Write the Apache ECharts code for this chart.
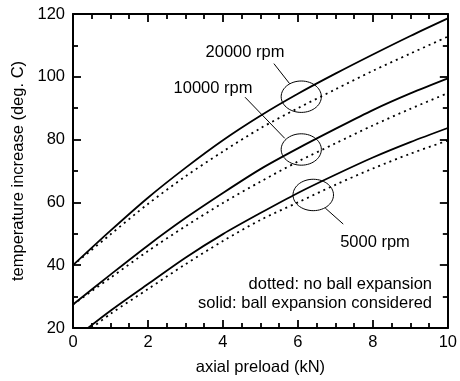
<!DOCTYPE html>
<html>
<head>
<meta charset="utf-8">
<script src="https://cdn.jsdelivr.net/npm/echarts@6/dist/echarts.min.js"></script>
<style>
  html, body { margin: 0; padding: 0; background: #fff; }
  #chart { width: 460px; height: 381px; }
</style>
</head>
<body>
<div id="chart"></div>
<script>
// axial preload (kN)
const loadX = [0, 1, 2, 3, 4, 5, 6, 7, 8, 9, 10];
const solid20000 = [40, 51, 61.5, 71, 79.8, 87.6, 94.6, 101, 107.1, 113, 118.6];
const dotted20000 = [40, 49.8, 59.5, 68.3, 76.2, 83.6, 90, 96, 101.9, 107.4, 112.8];
const solid10000 = [27.5, 37, 46.3, 55, 63, 70.6, 77.2, 83.4, 89.4, 94.7, 99.5];
const dotted10000 = [27.5, 36, 44.5, 52.4, 59.8, 66.6, 73, 78.8, 84.5, 89.8, 94.8];
// 5000 rpm curves start where they leave the bottom of the axis
const solid5000X = [0.4, 1, 2, 3, 4, 5, 6, 7, 8, 9, 10];
const solid5000 = [20, 25.5, 34, 42.4, 49.9, 56.6, 63, 68.8, 74.3, 79.2, 83.7];
const dotted5000X = [0.5, 1, 2, 3, 4, 5, 6, 7, 8, 9, 10];
const dotted5000 = [20, 24.5, 32.4, 40.3, 47.7, 54.4, 60, 65.6, 70.8, 75.5, 79.7];

// annotations in data units: ellipse [cx, cy, rx, ry], leader [x1, y1, x2, y2]
const ellipses = [[6.09, 93.66, 0.536, 5.0], [6.09, 76.85, 0.536, 5.0], [6.41, 62.37, 0.54, 5.0]];
const leaders = [[5.36, 104.2, 5.78, 97.8], [4.59, 93.5, 5.65, 80.4], [6.73, 58.2, 7.21, 53.1]];

const FONT = "'Liberation Sans', Arial, sans-serif";
const FS = 16.5;

function zip(xs, ys) {
  return xs.map((x, i) => [x, ys[i]]);
}

const chart = echarts.init(document.getElementById("chart"));

const axisCommon = {
  axisLine: { show: true, onZero: false, lineStyle: { color: "#000", width: 2 } },
  axisTick: { show: true, inside: true, length: 8, lineStyle: { color: "#000", width: 1.8 } },
  splitLine: { show: false },
};
const minor = (n) => ({ show: true, splitNumber: n, length: 5, lineStyle: { color: "#000", width: 1.8 } });

function solidLine(data) {
  return {
    type: "line", data: data, smooth: 0.3, symbol: "none",
    lineStyle: { color: "#000", width: 1.8, type: "solid" },
  };
}
function dottedLine(data) {
  return {
    type: "line", data: data, smooth: 0.3, symbol: "none",
    lineStyle: { color: "#000", width: 1.8, type: [2, 4] },
  };
}

const option = {
  animation: false,
  backgroundColor: "#fff",
  grid: { left: 73, right: 10, top: 14, bottom: 50 },
  xAxis: [
    Object.assign({}, axisCommon, {
      type: "value", min: 0, max: 10, interval: 2, position: "bottom",
      minorTick: minor(4),
      axisLabel: { color: "#000", fontSize: FS, fontFamily: FONT, margin: 6 },
      name: "axial preload (kN)", nameLocation: "middle", nameGap: 31,
      nameTextStyle: { color: "#000", fontSize: FS, fontFamily: FONT },
    }),
    Object.assign({}, axisCommon, {
      type: "value", min: 0, max: 10, interval: 2, position: "top",
      minorTick: minor(4),
      axisLabel: { show: false },
    }),
  ],
  yAxis: [
    Object.assign({}, axisCommon, {
      type: "value", min: 20, max: 120, interval: 20, position: "left",
      minorTick: minor(2),
      axisLabel: { color: "#000", fontSize: FS, fontFamily: FONT, margin: 8 },
      name: "temperature increase (deg. C)", nameLocation: "middle", nameGap: 39,
      nameTextStyle: { color: "#000", fontSize: FS, fontFamily: FONT },
    }),
    Object.assign({}, axisCommon, {
      type: "value", min: 20, max: 120, interval: 20, position: "right",
      minorTick: minor(2),
      axisLabel: { show: false },
    }),
  ],
  series: [
    solidLine(zip(loadX, solid20000)),
    dottedLine(zip(loadX, dotted20000)),
    solidLine(zip(loadX, solid10000)),
    dottedLine(zip(loadX, dotted10000)),
    solidLine(zip(solid5000X, solid5000)),
    dottedLine(zip(dotted5000X, dotted5000)),
    {
      type: "custom", clip: false, silent: true, z: 5,
      data: ellipses,
      renderItem: function (params, api) {
        const c = api.coord([api.value(0), api.value(1)]);
        const s = api.size([api.value(2), api.value(3)]);
        const pts = [];
        for (let i = 0; i < 60; i++) {
          const a = (i / 60) * Math.PI * 2;
          pts.push([c[0] + s[0] * Math.cos(a), c[1] + s[1] * Math.sin(a)]);
        }
        return { type: "polygon", shape: { points: pts }, style: { fill: "none", stroke: "#000", lineWidth: 1 } };
      },
    },
    {
      type: "custom", clip: false, silent: true, z: 5,
      data: leaders,
      renderItem: function (params, api) {
        const p1 = api.coord([api.value(0), api.value(1)]);
        const p2 = api.coord([api.value(2), api.value(3)]);
        return {
          type: "line",
          shape: { x1: p1[0], y1: p1[1], x2: p2[0], y2: p2[1] },
          style: { stroke: "#000", lineWidth: 1 },
        };
      },
    },
  ],
  graphic: [
    { type: "text", x: 245, y: 52, style: { text: "20000 rpm", align: "center", verticalAlign: "middle", fill: "#000", font: FS + "px " + FONT } },
    { type: "text", x: 213, y: 88, style: { text: "10000 rpm", align: "center", verticalAlign: "middle", fill: "#000", font: FS + "px " + FONT } },
    { type: "text", x: 375, y: 242, style: { text: "5000 rpm", align: "center", verticalAlign: "middle", fill: "#000", font: FS + "px " + FONT } },
    { type: "text", x: 432, y: 284, style: { text: "dotted: no ball expansion", align: "right", verticalAlign: "middle", fill: "#000", font: FS + "px " + FONT } },
    { type: "text", x: 432, y: 303, style: { text: "solid: ball expansion considered", align: "right", verticalAlign: "middle", fill: "#000", font: FS + "px " + FONT } },
  ],
};

chart.setOption(option);
</script>
</body>
</html>
